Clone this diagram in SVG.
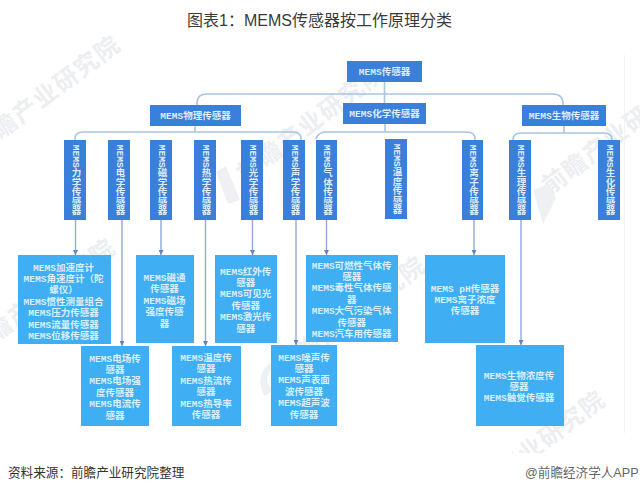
<svg xmlns="http://www.w3.org/2000/svg" width="640" height="493" viewBox="0 0 640 493">
<style>
text{font-family:"Liberation Sans","Noto Sans CJK SC",sans-serif}
.n rect{fill:#3a7fd9}
.l rect{fill:#40aef2}
.n text,.l text{font-family:"Liberation Mono","Noto Sans CJK SC",monospace;font-size:9.500px;font-weight:700;text-anchor:middle}
.n text{fill:#dfecfa}
.l text{fill:#daeffc}
.v text{writing-mode:vertical-rl}
.c path{fill:none;stroke:#a9c4e4;stroke-width:1.6}
.a path{fill:none;stroke:#8fa9dc;stroke-width:1.4}
.w{fill:#eceef1;font-size:24px;font-weight:700;letter-spacing:1.500px}
.i{fill:#eef0f3}
</style>
<defs>
<marker id="ah" markerUnits="userSpaceOnUse" markerWidth="6" markerHeight="5" refX="5" refY="2.500" orient="auto"><path d="M0 0L5 2.500L0 5z" fill="#6483bd"/></marker>
</defs>
<rect width="640" height="493" fill="#fff"/>
<g id="watermarks">
<text class="w" transform="translate(-20 155) rotate(-37)">前瞻产业研究院</text>
<text class="w" transform="translate(245 183) rotate(-37)">前瞻产业研究院</text>
<text class="w" transform="translate(550 195) rotate(-37)">前瞻产业研究院</text>
<text class="w" transform="translate(-25 358) rotate(-37)">前瞻产业研究院</text>
<text class="w" transform="translate(285 376) rotate(-37)">前瞻产业研究院</text>
<text class="w" transform="translate(465 510) rotate(-37)">前瞻产业研究院</text>
<path class="i" d="M216 172L226 166L240 200L228 204z"/>
<path class="i" d="M533 190L548 184L556 198L543 224z"/>
<path class="i" d="M285 358a24 24 0 0 0-20 38l8-6a14 14 0 0 1 14-24z"/>
</g>
<rect y="453" width="640" height="40" fill="#fff"/>
<path d="M624.500 55V433" stroke="#f1f3f5" fill="none"/>
<text id="title" x="319.500" y="26" font-size="16" fill="#3a3a3a" text-anchor="middle">图表1：MEMS传感器按工作原理分类</text>
<g id="connectors">
<g class="c">
<path d="M384.500 82V103"/>
<path d="M197 105V103Q197 94 207 94H553Q563 94 563 104V105"/>
<path d="M195 126V132"/>
<path d="M75 140V139Q75 132 83 132H293Q301 132 301 139V140"/>
<path d="M385 124V132"/>
<path d="M316 139Q318 132 326 132H467Q475 132 475 139V140"/>
<path d="M564 126V133"/>
<path d="M513 140Q513 133 521 133H604Q612 133 612 140"/>
</g>
<g class="a">
<path d="M75.500 220V255" marker-end="url(#ah)"/>
<path d="M122 220V346" marker-end="url(#ah)"/>
<path d="M161 220V255" marker-end="url(#ah)"/>
<path d="M205.500 220V346" marker-end="url(#ah)"/>
<path d="M252.500 220V255" marker-end="url(#ah)"/>
<path d="M296 220V345" marker-end="url(#ah)"/>
<path d="M326.500 220V255" marker-end="url(#ah)"/>
<path d="M474 220V255" marker-end="url(#ah)"/>
<path d="M521 220V345" marker-end="url(#ah)"/>
</g>
</g>
<g id="n-root" class="n"><rect x="347" y="61" width="75" height="21"/><text x="384.500" y="75">MEMS传感器</text></g>
<g id="n-phys" class="n"><rect x="150" y="105" width="91" height="21"/><text x="195.500" y="119">MEMS物理传感器</text></g>
<g id="n-chem" class="n"><rect x="343" y="103" width="83" height="21"/><text x="384.500" y="117">MEMS化学传感器</text></g>
<g id="n-bio" class="n"><rect x="522" y="105" width="84" height="21"/><text x="564" y="119">MEMS生物传感器</text></g>
<g id="v-mech" class="n v"><rect x="64" y="140" width="22" height="80"/><text x="75" y="180">MEMS力学传感器</text></g>
<g id="v-elec" class="n v"><rect x="108" y="140" width="22" height="80"/><text x="119" y="180">MEMS电学传感器</text></g>
<g id="v-mag" class="n v"><rect x="150" y="140" width="22" height="80"/><text x="161" y="180">MEMS磁学传感器</text></g>
<g id="v-heat" class="n v"><rect x="194" y="140" width="22" height="80"/><text x="205" y="180">MEMS热学传感器</text></g>
<g id="v-opt" class="n v"><rect x="241" y="140" width="22" height="80"/><text x="252" y="180">MEMS光学传感器</text></g>
<g id="v-sound" class="n v"><rect x="283" y="140" width="22" height="80"/><text x="294" y="180">MEMS声学传感器</text></g>
<g id="v-gas" class="n v"><rect x="316" y="140" width="21" height="80"/><text x="326.500" y="180">MEMS气体传感器</text></g>
<g id="v-temp" class="n v"><rect x="385" y="139" width="22" height="80"/><text x="396" y="179">MEMS温度传感器</text></g>
<g id="v-ion" class="n v"><rect x="462" y="140" width="21" height="80"/><text x="472.500" y="180">MEMS离子传感器</text></g>
<g id="v-physio" class="n v"><rect x="509" y="140" width="22" height="80"/><text x="520" y="180">MEMS生理传感器</text></g>
<g id="v-biochem" class="n v"><rect x="598" y="140" width="22" height="80"/><text x="609" y="180">MEMS生化传感器</text></g>
<g id="l-mech" class="l"><rect x="18" y="255" width="93" height="89"/><text y="270.500"><tspan x="63.500">MEMS加速度计</tspan><tspan x="63.500" dy="11.400">MEMS角速度计（陀</tspan><tspan x="63.500" dy="11.400">螺仪）</tspan><tspan x="63.500" dy="11.400">MEMS惯性测量组合</tspan><tspan x="63.500" dy="11.400">MEMS压力传感器</tspan><tspan x="63.500" dy="11.400">MEMS流量传感器</tspan><tspan x="63.500" dy="11.400">MEMS位移传感器</tspan></text></g>
<g id="l-mag" class="l"><rect x="136" y="255" width="58" height="88"/><text y="281"><tspan x="164.500">MEMS磁通</tspan><tspan x="164.500" dy="11.400">传感器</tspan><tspan x="164.500" dy="11.400">MEMS磁场</tspan><tspan x="164.500" dy="11.400">强度传感</tspan><tspan x="164.500" dy="11.400">器</tspan></text></g>
<g id="l-opt" class="l"><rect x="215" y="255" width="62" height="88"/><text y="274.500"><tspan x="245.700">MEMS红外传</tspan><tspan x="245.700" dy="11.400">感器</tspan><tspan x="245.700" dy="11.400">MEMS可见光</tspan><tspan x="245.700" dy="11.400">传感器</tspan><tspan x="245.700" dy="11.400">MEMS激光传</tspan><tspan x="245.700" dy="11.400">感器</tspan></text></g>
<g id="l-gas" class="l"><rect x="306" y="255" width="92" height="87"/><text y="268.500"><tspan x="351.700">MEMS可燃性气体传</tspan><tspan x="351.700" dy="11.400">感器</tspan><tspan x="351.700" dy="11.400">MEMS毒性气体传感</tspan><tspan x="351.700" dy="11.400">器</tspan><tspan x="351.700" dy="11.400">MEMS大气污染气体</tspan><tspan x="351.700" dy="11.400">传感器</tspan><tspan x="351.700" dy="11.400">MEMS汽车用传感器</tspan></text></g>
<g id="l-ion" class="l"><rect x="425" y="255" width="80" height="88"/><text y="291.500"><tspan x="465">MEMS pH传感器</tspan><tspan x="465" dy="11.400">MEMS离子浓度</tspan><tspan x="465" dy="11.400">传感器</tspan></text></g>
<g id="l-elec" class="l"><rect x="81" y="346" width="68" height="80"/><text y="361.500"><tspan x="115">MEMS电场传</tspan><tspan x="115" dy="11.400">感器</tspan><tspan x="115" dy="11.400">MEMS电场强</tspan><tspan x="115" dy="11.400">度传感器</tspan><tspan x="115" dy="11.400">MEMS电流传</tspan><tspan x="115" dy="11.400">感器</tspan></text></g>
<g id="l-heat" class="l"><rect x="172" y="346" width="69" height="80"/><text y="361"><tspan x="206">MEMS温度传</tspan><tspan x="206" dy="11.400">感器</tspan><tspan x="206" dy="11.400">MEMS热流传</tspan><tspan x="206" dy="11.400">感器</tspan><tspan x="206" dy="11.400">MEMS热导率</tspan><tspan x="206" dy="11.400">传感器</tspan></text></g>
<g id="l-sound" class="l"><rect x="271" y="345" width="66" height="81"/><text y="360.500"><tspan x="304">MEMS噪声传</tspan><tspan x="304" dy="11.400">感器</tspan><tspan x="304" dy="11.400">MEMS声表面</tspan><tspan x="304" dy="11.400">波传感器</tspan><tspan x="304" dy="11.400">MEMS超声波</tspan><tspan x="304" dy="11.400">传感器</tspan></text></g>
<g id="l-bio" class="l"><rect x="476" y="345" width="88" height="81"/><text y="378.500"><tspan x="519">MEMS生物浓度传</tspan><tspan x="519" dy="11.400">感器</tspan><tspan x="519" dy="11.400">MEMS触觉传感器</tspan></text></g>
<text id="source" x="8" y="477" font-size="12.600" fill="#333">资料来源：前瞻产业研究院整理</text>
<text id="credit" x="525" y="477" font-size="12.600" fill="#666">@前瞻经济学人APP</text>
</svg>
